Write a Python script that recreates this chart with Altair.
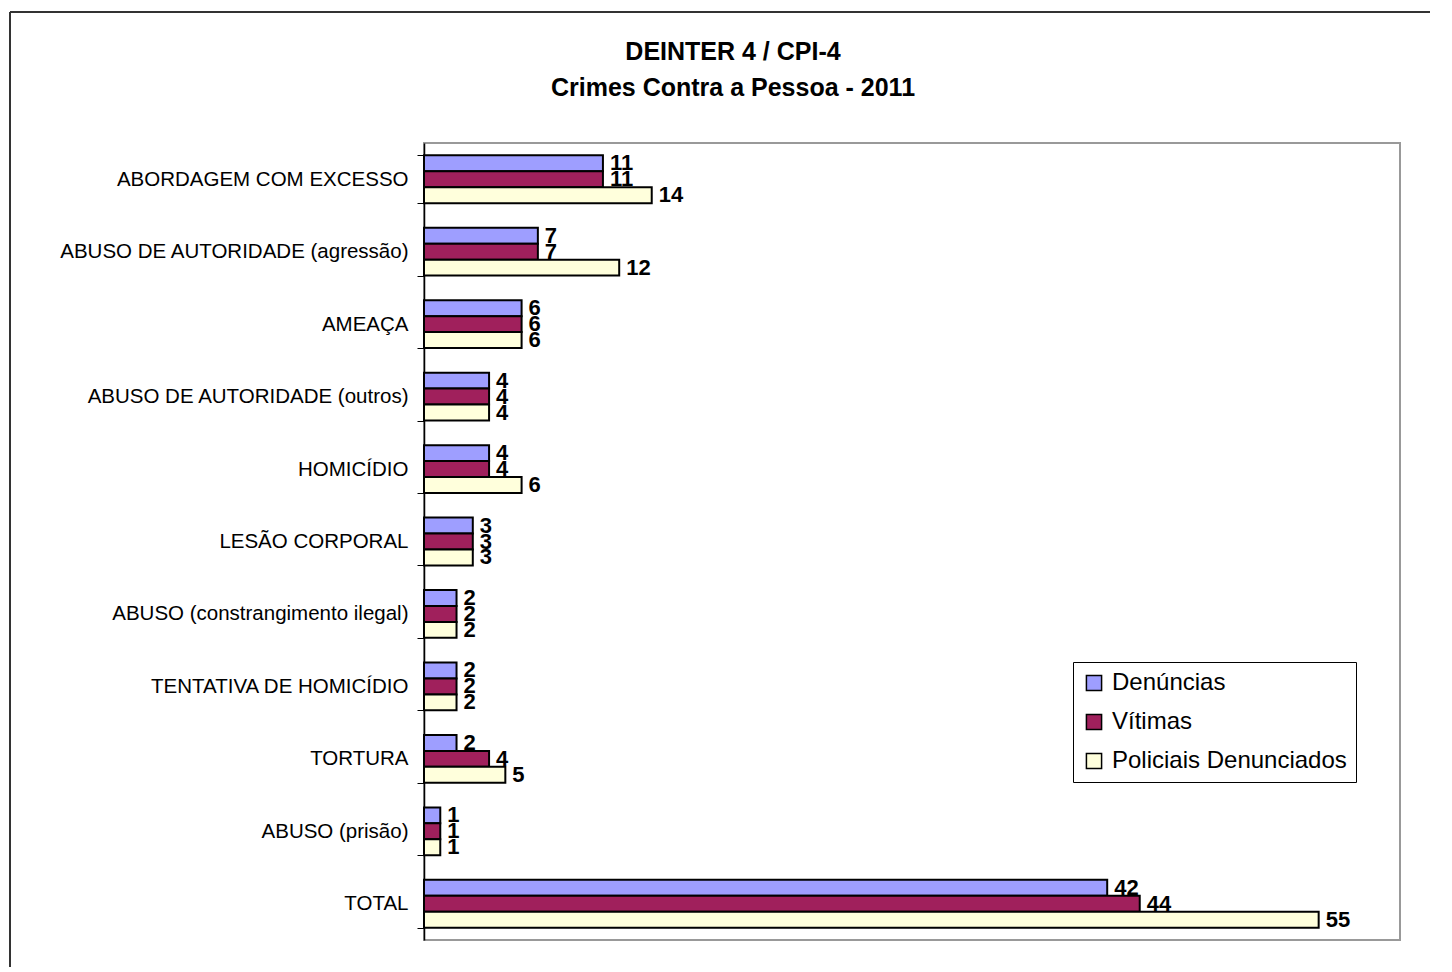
import altair as alt
import pandas as pd

title_lines = ["DEINTER 4 / CPI-4", "Crimes Contra a Pessoa - 2011"]
categories = [
    "ABORDAGEM COM EXCESSO",
    "ABUSO DE AUTORIDADE (agressão)",
    "AMEAÇA",
    "ABUSO DE AUTORIDADE (outros)",
    "HOMICÍDIO",
    "LESÃO CORPORAL",
    "ABUSO (constrangimento ilegal)",
    "TENTATIVA DE HOMICÍDIO",
    "TORTURA",
    "ABUSO (prisão)",
    "TOTAL",
]
series = ["Denúncias", "Vítimas", "Policiais Denunciados"]
denuncias = [11, 7, 6, 4, 4, 3, 2, 2, 2, 1, 42]
vitimas = [11, 7, 6, 4, 4, 3, 2, 2, 4, 1, 44]
policiais = [14, 12, 6, 4, 6, 3, 2, 2, 5, 1, 55]
colors = ["#9E9EFF", "#A0205C", "#FFFFDC"]

rows = []
for i, c in enumerate(categories):
    for s, vals in zip(series, [denuncias, vitimas, policiais]):
        rows.append({"cat": c, "serie": s, "valor": vals[i]})
df = pd.DataFrame(rows)

FONT = "Liberation Sans"

y_enc = alt.Y("cat:N", sort=categories, title=None,
              scale=alt.Scale(paddingInner=0.34, paddingOuter=0.17),
              axis=alt.Axis(labelFontSize=20.5, labelColor="black", labelFont=FONT,
                            labelPadding=9, tickSize=7, tickColor="black",
                            domainColor="black", domainWidth=1.5, tickBand="extent",
                            labelLimit=400))
x_enc = alt.X("valor:Q", scale=alt.Scale(domain=[0, 60], nice=False), axis=None)
yoff = alt.YOffset("serie:N", sort=series, scale=alt.Scale(paddingInner=0, paddingOuter=0))

bars = alt.Chart(df).mark_bar(stroke="black", strokeWidth=2, opacity=1).encode(
    y=y_enc,
    x=x_enc,
    yOffset=yoff,
    color=alt.Color("serie:N", sort=series,
                    scale=alt.Scale(domain=series, range=colors),
                    legend=alt.Legend(title=None, orient="none", legendX=649, legendY=519,
                                      labelFontSize=24, labelFont=FONT, labelColor="black",
                                      labelLimit=400,
                                      symbolType="square", symbolSize=230,
                                      symbolStrokeColor="black", symbolStrokeWidth=1.5,
                                      symbolOpacity=1,
                                      rowPadding=15, strokeColor="black", padding=9,
                                      labelOffset=6, fillColor="white")),
)

labels = alt.Chart(df).mark_text(align="left", baseline="middle", dx=7, fontSize=22,
                                 fontWeight="bold", font=FONT, color="black").encode(
    y=alt.Y("cat:N", sort=categories),
    x="valor:Q",
    yOffset=yoff,
    text="valor:Q",
)

tdf = pd.DataFrame({"line": title_lines, "pos": [0, 1]})
title_parts = []
for p, yv in [(0, -91), (1, -55)]:
    title_parts.append(
        alt.Chart(tdf).transform_filter(alt.datum.pos == p).mark_text(
            fontSize=25, fontWeight="bold", font=FONT, color="black",
            align="center", baseline="middle").encode(
            text="line:N", x=alt.value(309), y=alt.value(yv))
    )

frame_df = pd.DataFrame({"k": [0]})
frame_top = alt.Chart(frame_df).mark_rule(color="#333", strokeWidth=2).encode(
    x=alt.value(-414), x2=alt.value(1100), y=alt.value(-131))
frame_left = alt.Chart(frame_df).mark_rule(color="#333", strokeWidth=2).encode(
    x=alt.value(-414), y=alt.value(-131), y2=alt.value(900))

chart = alt.layer(bars, labels, *title_parts, frame_top, frame_left).properties(
    width=976,
    height=797,
    autosize=alt.AutoSizeParams(type="none"),
    padding={"left": 416, "top": 135, "right": 30, "bottom": 27},
).configure_view(stroke="#999999", strokeWidth=2).configure_axis(grid=False)

chart.save("out.html", embed_options={"renderer": "svg", "actions": False})
